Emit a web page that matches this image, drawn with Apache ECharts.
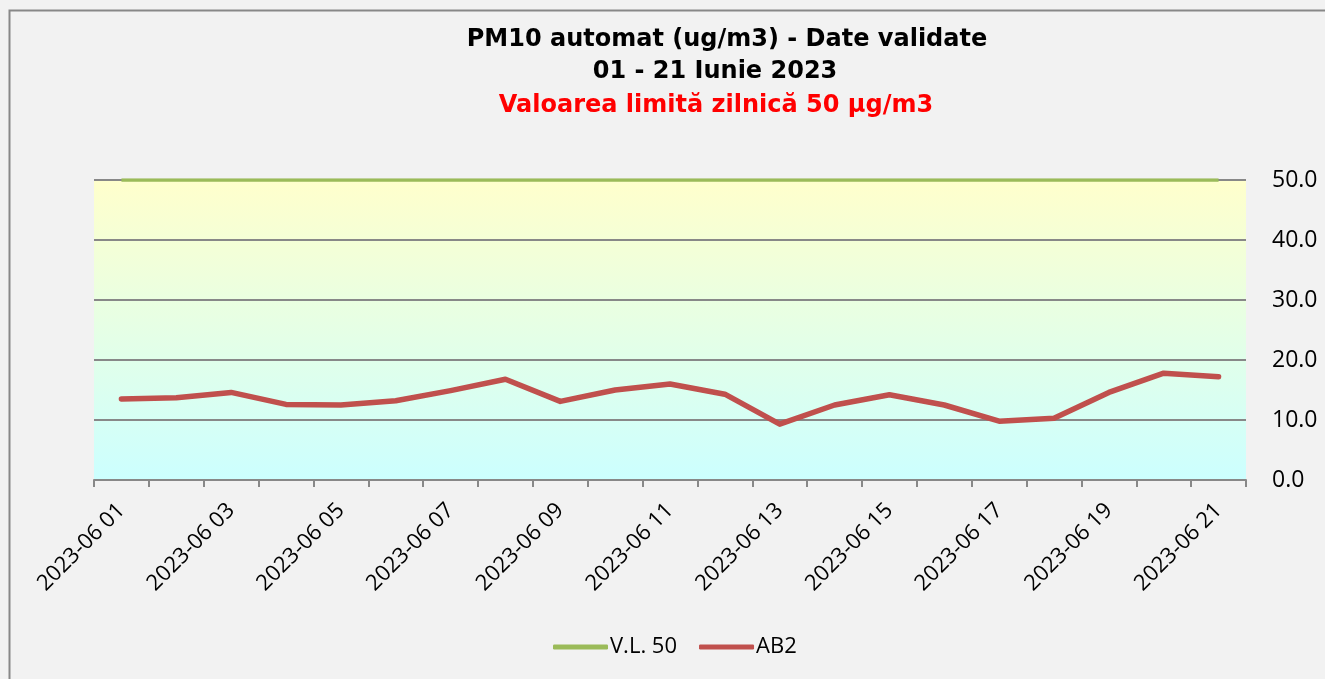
<!DOCTYPE html>
<html>
<head>
<meta charset="utf-8">
<script src="https://cdn.jsdelivr.net/npm/echarts@6/dist/echarts.min.js"></script>
<style>
    html, body { margin: 0; padding: 0; background: #f2f2f2; }
    #chart { width: 1325px; height: 679px; }
</style>
</head>
<body>
<div id="chart"></div>
<script>
// zilele (categorii)
let zile = ['2023-06 01', '2023-06 02', '2023-06 03', '2023-06 04', '2023-06 05', '2023-06 06', '2023-06 07',
    '2023-06 08', '2023-06 09', '2023-06 10', '2023-06 11', '2023-06 12', '2023-06 13', '2023-06 14',
    '2023-06 15', '2023-06 16', '2023-06 17', '2023-06 18', '2023-06 19', '2023-06 20', '2023-06 21'];

// valoarea limita
let vl50 = [50, 50, 50, 50, 50, 50, 50, 50, 50, 50, 50, 50, 50, 50, 50, 50, 50, 50, 50, 50, 50];

// statia AB2
let ab2 = [13.5, 13.7, 14.6, 12.6, 12.5, 13.2, 14.9, 16.8, 13.1, 15.0, 16.0, 14.3, 9.3, 12.5,
    14.2, 12.5, 9.8, 10.3, 14.6, 17.8, 17.2];

let yTicks = [0, 10, 20, 30, 40, 50];

let myChart = echarts.init(document.getElementById('chart'));

let font = '"Open Sans", "Noto Sans", sans-serif';
let titleFont = '"DejaVu Sans", Verdana, sans-serif';

function titlu(text, x, y, color) {
    return {
        text: text,
        left: x,
        textAlign: 'center',
        top: y,
        textStyle: {
            fontFamily: titleFont,
            fontWeight: 'bold',
            fontSize: 24,
            color: color
        }
    };
}

let option = {
    backgroundColor: '#f2f2f2',
    animation: false,
    graphic: [{
        type: 'rect',
        shape: { x: 9.5, y: 10.5, width: 1400, height: 800 },
        style: { fill: 'none', stroke: '#888888', lineWidth: 2 },
        silent: true
    }],
    title: [
        titlu('PM10 automat (ug/m3) - Date validate', 722, 23, '#000'),
        titlu('01 - 21 Iunie 2023', 710, 55, '#000'),
        titlu('Valoarea limită zilnică 50 µg/m3', 711, 89, '#ff0000')
    ],
    legend: {
        data: [
            { name: 'V.L. 50', icon: 'roundRect' },
            { name: 'AB2', icon: 'roundRect' }
        ],
        bottom: 16,
        left: 548,
        itemWidth: 55,
        itemHeight: 5,
        itemGap: 22,
        textStyle: { fontFamily: font, fontSize: 22, color: '#000', padding: [0, 0, 0, -3] }
    },
    grid: {
        left: 94,
        right: 79,
        top: 180,
        bottom: 199,
        show: true,
        borderWidth: 0,
        backgroundColor: {
            type: 'linear', x: 0, y: 0, x2: 0, y2: 1,
            colorStops: [
                { offset: 0, color: '#ffffcc' },
                { offset: 1, color: '#ccffff' }
            ]
        }
    },
    xAxis: {
        type: 'category',
        data: zile,
        boundaryGap: true,
        axisLine: { lineStyle: { color: '#888888', width: 2 } },
        axisTick: { show: true, interval: 0, length: 7, lineStyle: { color: '#888888', width: 2 } },
        axisLabel: {
            interval: 1,
            rotate: 45,
            margin: 27,
            fontFamily: font,
            fontSize: 22,
            color: '#000'
        }
    },
    yAxis: {
        type: 'value',
        position: 'right',
        min: yTicks[0],
        max: yTicks[yTicks.length - 1],
        interval: 10,
        axisLine: { show: false },
        axisTick: { show: false },
        splitLine: { lineStyle: { color: '#888888', width: 2 } },
        axisLabel: {
            margin: 26,
            fontFamily: font,
            fontSize: 23,
            color: '#000',
            formatter: function (v) { return v.toFixed(1); }
        }
    },
    series: [
        {
            name: 'V.L. 50',
            type: 'line',
            data: vl50,
            symbol: 'none',
            lineStyle: { color: '#9bbb59', width: 3.5 },
            itemStyle: { color: '#9bbb59' }
        },
        {
            name: 'AB2',
            type: 'line',
            data: ab2,
            symbol: 'none',
            lineStyle: { color: '#c0504d', width: 5.5, cap: 'round', join: 'round' },
            itemStyle: { color: '#c0504d' }
        }
    ]
};

myChart.setOption(option);
</script>
</body>
</html>
